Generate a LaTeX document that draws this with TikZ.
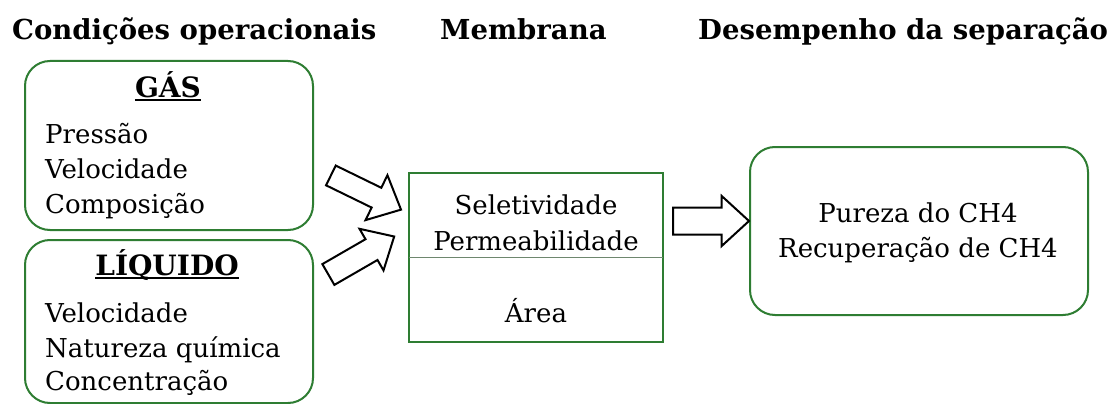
\documentclass[tikz,border=0pt]{standalone}
\usepackage{fontspec}
\setmainfont{DejaVu Serif}
\usetikzlibrary{shapes.arrows}
\definecolor{boxgreen}{RGB}{46,125,50}
\definecolor{divgray}{RGB}{110,135,110}
\begin{document}
\begin{tikzpicture}[x=1pt,y=-1pt,
  gbox/.style={draw=boxgreen,line width=2pt,rounded corners=25pt,rectangle},
  mbox/.style={draw=boxgreen,line width=2pt,rectangle},
  head/.style={font=\fontsize{27.5}{30}\selectfont\bfseries,inner sep=0pt,anchor=base west},
  subhead/.style={font=\fontsize{28}{30}\selectfont\bfseries,inner sep=0pt,anchor=base},
  txt/.style={font=\fontsize{26}{30}\selectfont,inner sep=0pt},
  barrow/.style={single arrow,draw=black,line width=2pt,fill=white,inner xsep=0pt,single arrow tip angle=85,anchor=tail}]
\fill[white] (0,0) rectangle (1111,404);
\useasboundingbox (0,0) rectangle (1111,404);
% headings
\node[head] (h1) at (12,40) {Condições operacionais};
\node[head] (h2) at (440,40) {Membrana};
\node[head] (h3) at (698,40) {Desempenho da separação};
% boxes
\node[gbox,minimum width=288pt,minimum height=169pt] (gas) at (169,145.5) {};
\node[gbox,minimum width=288pt,minimum height=163pt] (liq) at (169,321.5) {};
\node[mbox,minimum width=254pt,minimum height=169pt] (mem) at (536,257.5) {};
\node[gbox,minimum width=338pt,minimum height=168pt] (res) at (919,231) {};
\coordinate (dl) at (409,257);
\coordinate (dr) at (663,257);
\draw[divgray,line width=1pt] (dl) -- (dr);
% gas text
\node[subhead] (gt) at (168,97) {GÁS};
\draw[line width=1.5pt] ([yshift=-3pt]gt.base west) -- ([yshift=-3pt]gt.base east);
\node[txt,anchor=base west] (g1) at (45,143) {Pressão};
\node[txt,anchor=base west] (g2) at (45,178) {Velocidade};
\node[txt,anchor=base west] (g3) at (45,213) {Composição};
% liquid text
\node[subhead] (lt) at (167,275) {LÍQUIDO};
\draw[line width=1.5pt] ([yshift=-3pt]lt.base west) -- ([yshift=-3pt]lt.base east);
\node[txt,anchor=base west] (l1) at (45,322) {Velocidade};
\node[txt,anchor=base west] (l2) at (45,357) {Natureza química};
\node[txt,anchor=base west] (l3) at (45,390) {Concentração};
% membrane text
\node[txt,anchor=base] (m1) at (536,214) {Seletividade};
\node[txt,anchor=base] (m2) at (536,250) {Permeabilidade};
\node[txt,anchor=base] (m3) at (536,322) {Área};
% result text
\node[txt,anchor=base] (r1) at (918,222) {Pureza do CH4};
\node[txt,anchor=base] (r2) at (918,257) {Recuperação de CH4};
% block arrows
\node[barrow,inner ysep=10pt,single arrow head extend=14pt,minimum height=78pt,rotate=-26] (a1) at (330,175) {};
\node[barrow,inner ysep=11pt,single arrow head extend=12pt,minimum height=76pt,rotate=30] (a2) at (327.5,275) {};
\node[barrow,inner ysep=12.5pt,single arrow head extend=11.5pt,minimum height=76pt] (a3) at (672,221) {};
\end{tikzpicture}
\end{document}
